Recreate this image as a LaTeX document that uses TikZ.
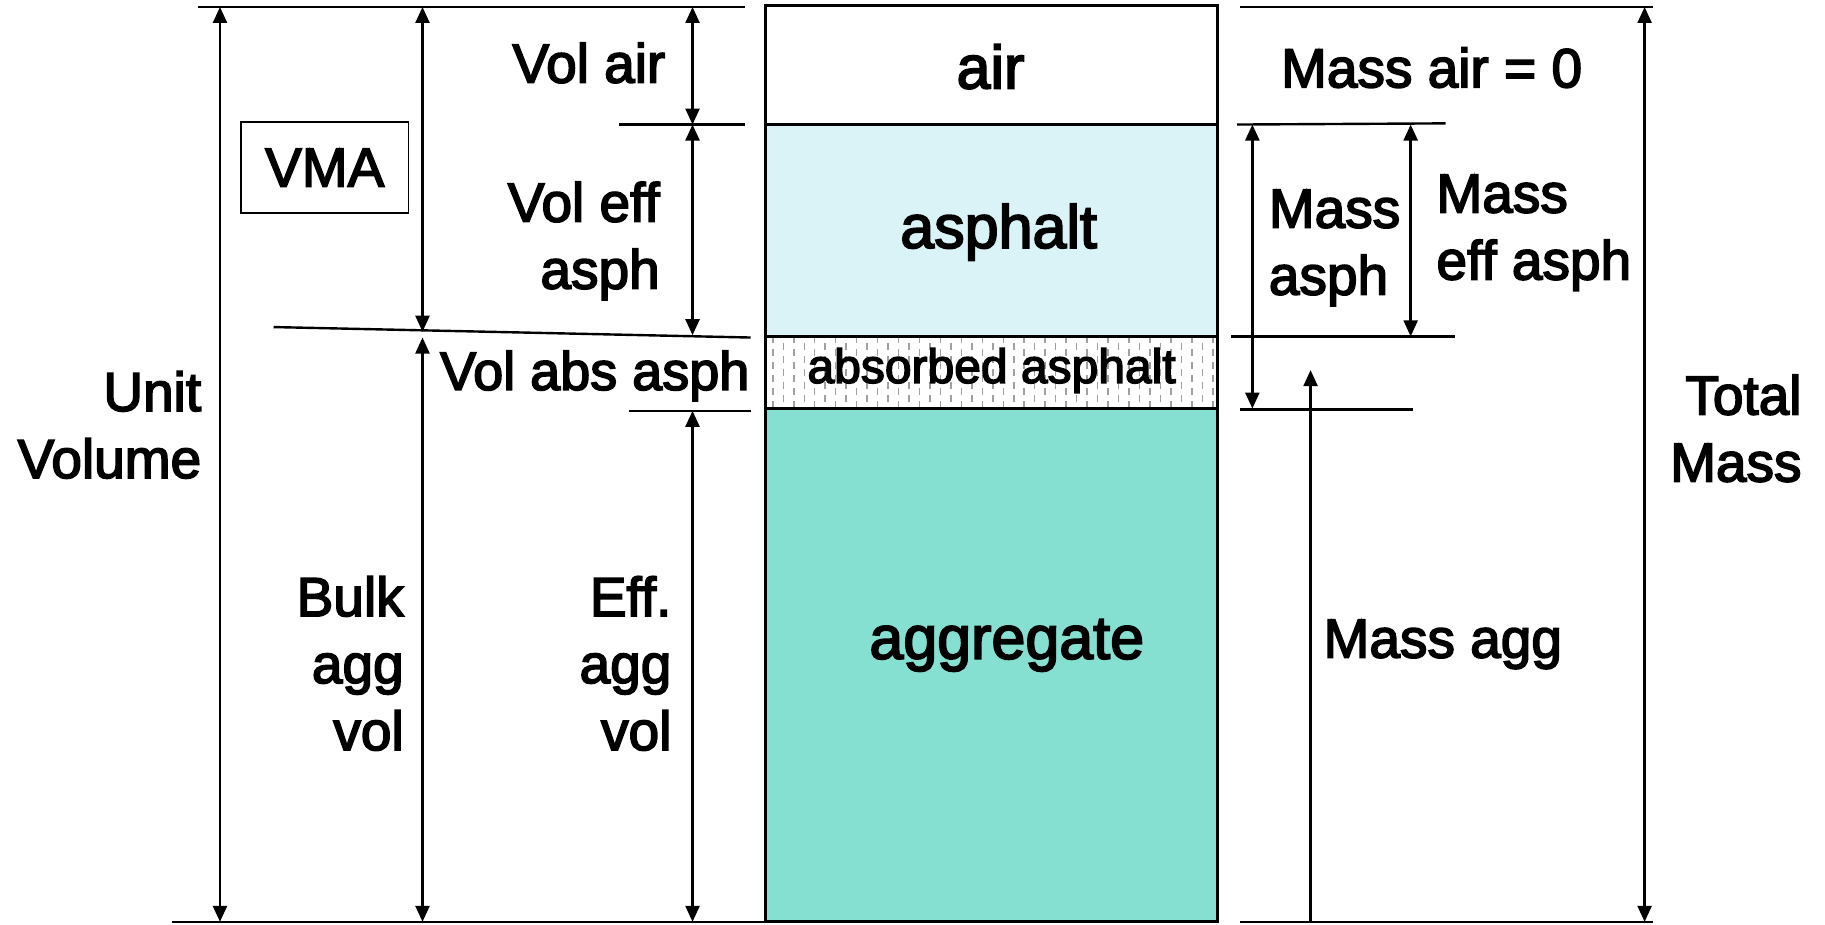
\documentclass[tikz,border=0pt]{standalone}
\usepackage{fontspec}
\setmainfont{Liberation Sans}
\newfontfamily\labelfont{Liberation Sans}[FakeBold=3]
\usetikzlibrary{arrows.meta}
\definecolor{asphaltfill}{RGB}{218,243,247}
\definecolor{aggfill}{RGB}{134,224,210}
\definecolor{dotgray}{RGB}{160,160,160}

\begin{document}
\begin{tikzpicture}[x=1.1639pt,y=-1.1639pt,
  rule/.style={line width=2.4pt},
  dimarrow/.style={line width=2.4pt,{Triangle[length=16pt,width=14pt]}-{Triangle[length=16pt,width=14pt]}},
  uparrow/.style={line width=2.4pt,-{Triangle[length=16pt,width=14pt]}},
  lbl/.style={inner sep=0pt,font=\labelfont\fontsize{55}{67}\selectfont},
  biglbl/.style={inner sep=0pt,font=\labelfont\fontsize{61}{73}\selectfont},
  layer/.style={draw=black,line width=3pt},
]
\useasboundingbox (0,0) rectangle (1568,794);

% ---- phase column ----
\fill[white]       (658,5)   rectangle (1046,107);
\fill[asphaltfill] (658,107) rectangle (1046,289);
\fill[white]       (658,289) rectangle (1046,351);
\fill[aggfill]     (658,351) rectangle (1046,792);
\begin{scope}
  \clip (658,289) rectangle (1046,351);
  \foreach \i [evaluate=\i as \ph using {mod(\i,2)*6}] in {0,...,43}
    \draw[dotgray,line width=1.5pt,dash pattern=on 7pt off 6pt,dash phase=\ph pt]
      ({664+9*\i},289) -- ++(0,62);
\end{scope}
\draw[layer] (658,5) rectangle (1046,107);
\draw[layer] (658,107) rectangle (1046,289);
\draw[layer] (658,289) rectangle (1046,351);
\draw[layer] (658,351) rectangle (1046,792);

\node[biglbl,anchor=base] (air) at (851,76) {air};
\node[biglbl,anchor=base] (asph) at (858,213) {asphalt};
\node[inner sep=0pt,font=\labelfont\fontsize{48}{58}\selectfont,anchor=base] (abs) at (852,329) {absorbed asphalt};
\node[biglbl,anchor=base] (agg) at (865,566) {aggregate};

% ---- left reference lines ----
\coordinate (LtopA) at (170,6);   \coordinate (LtopB) at (640,6);
\coordinate (LairA) at (532,107); \coordinate (LairB) at (640,107);
\coordinate (LvmaA) at (235,281); \coordinate (LvmaB) at (645,290);
\coordinate (LabsA) at (540,353); \coordinate (LabsB) at (645,353);
\coordinate (LbotA) at (148,792); \coordinate (LbotB) at (656,792);
\draw[rule] (LtopA) -- (LtopB);
\draw[rule] (LairA) -- (LairB);
\draw[rule] (LvmaA) -- (LvmaB);
\draw[rule] (LabsA) -- (LabsB);
\draw[rule] (LbotA) -- (LbotB);

% ---- left dimension arrows ----
\coordinate (uvT) at (189,6);    \coordinate (uvB) at (189,792);
\coordinate (vmaT) at (363,6);   \coordinate (vmaB) at (363,285);
\coordinate (bulkT) at (363,290);\coordinate (bulkB) at (363,792);
\coordinate (vaT) at (595,6);    \coordinate (vaB) at (595,107);
\coordinate (veT) at (595,107);  \coordinate (veB) at (595,288);
\coordinate (eaT) at (595,353);  \coordinate (eaB) at (595,792);
\draw[dimarrow] (uvT) -- (uvB);
\draw[dimarrow] (vmaT) -- (vmaB);
\draw[dimarrow] (bulkT) -- (bulkB);
\draw[dimarrow] (vaT) -- (vaB);
\draw[dimarrow] (veT) -- (veB);
\draw[dimarrow] (eaT) -- (eaB);

% ---- left labels ----
\node[lbl,anchor=base] (volair) at (506,71) {Vol air};
\node[lbl,draw,line width=1.8pt,minimum width=167.6pt,minimum height=90.8pt] (vma) at (279,144) {VMA};
\node[lbl,align=right,anchor=east] (voleff) at (567,207) {Vol eff\\asph};
\node[inner sep=0pt,font=\labelfont\fontsize{54}{66}\selectfont,anchor=base west] (volabs) at (378,335) {Vol abs asph};
\node[lbl,align=right,anchor=east] (unitvol) at (173,365) {Unit\\Volume};
\node[lbl,align=right,anchor=east] (bulk) at (347,570) {Bulk\\agg\\vol};
\node[lbl,align=right,anchor=east] (effagg) at (577,570) {Eff.\\agg\\vol};

% ---- right reference lines ----
\coordinate (RtopA) at (1065,6);   \coordinate (RtopB) at (1420,6);
\coordinate (RasA) at (1063,107);  \coordinate (RasB) at (1242,106);
\coordinate (ReffA) at (1058,289); \coordinate (ReffB) at (1250,289);
\coordinate (RaggA) at (1065,352); \coordinate (RaggB) at (1214,352);
\coordinate (RbotA) at (1065,792); \coordinate (RbotB) at (1420,792);
\draw[rule] (RtopA) -- (RtopB);
\draw[rule] (RasA) -- (RasB);
\draw[rule] (ReffA) -- (ReffB);
\draw[rule] (RaggA) -- (RaggB);
\draw[rule] (RbotA) -- (RbotB);

% ---- right dimension arrows ----
\coordinate (tmT) at (1413,6);   \coordinate (tmB) at (1413,792);
\coordinate (maT) at (1076,107); \coordinate (maB) at (1076,351);
\coordinate (meT) at (1212,107); \coordinate (meB) at (1212,289);
\coordinate (mgT) at (1126,318); \coordinate (mgB) at (1126,792);
\draw[dimarrow] (tmT) -- (tmB);
\draw[dimarrow] (maT) -- (maB);
\draw[dimarrow] (meT) -- (meB);
\draw[uparrow] (mgB) -- (mgT);

% ---- right labels ----
\node[lbl,anchor=base] (massair) at (1230,75) {Mass air = 0};
\node[lbl,align=left,anchor=west] (massasph) at (1090,213) {Mass\\asph};
\node[lbl,align=left,anchor=west] (masseff) at (1234,200) {Mass\\eff asph};
\node[lbl,align=right,anchor=east] (total) at (1548,368) {Total\\Mass};
\node[lbl,anchor=base west] (massagg) at (1137,565) {Mass agg};
\end{tikzpicture}
\end{document}
